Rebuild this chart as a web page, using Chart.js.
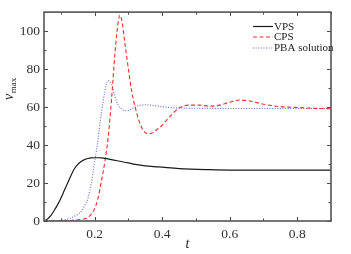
<!DOCTYPE html>
<html><head><meta charset="utf-8">
<script src="https://cdn.jsdelivr.net/npm/chart.js@4/dist/chart.umd.min.js"></script>
<style>html,body{margin:0;padding:0;background:#fff}canvas{display:block}</style>
</head><body>
<canvas id="c" width="351" height="254"></canvas>
<script>
const seriesNames = ['VPS', 'CPS', 'PBA solution'];
const xTicks = [0.2, 0.4, 0.6, 0.8];
const yTicks = [0, 20, 40, 60, 80, 100];

const tVPS = [0.05,0.06,0.07,0.08,0.09,0.10,0.11,0.12,0.13,0.14,0.15,0.16,0.17,0.18,0.19,0.20,0.21,0.22,0.23,0.24,0.25,0.27,0.30,0.32,0.35,0.39,0.45,0.54,0.60,0.70,0.80,0.90];
const vps  = [0,1,2.8,5.5,8.5,12,16,20,24,27.5,29.8,31.3,32.3,32.9,33.2,33.3,33.3,33.2,33.0,32.7,32.3,31.6,30.6,29.8,29.0,28.5,27.6,27.0,26.8,26.8,26.8,26.8];

const tCPS = [0.05,0.08,0.10,0.12,0.14,0.16,0.17,0.18,0.19,0.20,0.21,0.22,0.23,0.24,0.25,0.26,0.27,0.275,0.28,0.29,0.30,0.31,0.32,0.33,0.34,0.35,0.36,0.37,0.38,0.40,0.42,0.45,0.48,0.51,0.54,0.57,0.60,0.63,0.66,0.70,0.74,0.78,0.82,0.86,0.90];
const cps  = [0,0,0,0.2,0.5,0.8,1.2,2,3.5,6.5,12,21,31,44,64,88,105,108.4,106,93,80,68,60,53.5,49,46.5,45.8,46.3,47.5,50.5,54.5,59.5,61,61,60.5,61,62.6,63.7,63.2,61.5,60.4,59.9,59.6,59.3,59.1];

const tPBA = [0.05,0.07,0.09,0.10,0.11,0.12,0.13,0.14,0.15,0.16,0.17,0.18,0.19,0.20,0.21,0.22,0.23,0.24,0.25,0.26,0.27,0.28,0.29,0.30,0.31,0.32,0.33,0.35,0.37,0.40,0.45,0.55,0.70,0.90];
const pba  = [0,0.1,0.2,0.3,0.6,1.0,1.7,2.5,3.5,5,8,12,20,31,43,57,68,74,72,65.5,61,59,58,58.2,59,60,60.7,61.2,60.9,60.2,59.5,59.3,59.2,59.2];

const toPts = (xs, ys) => xs.map((x, i) => ({x: x, y: ys[i]}));

const frameAndTicks = {
  id: 'frameAndTicks',
  afterDatasetsDraw(chart) {
    const {ctx, chartArea: a, scales: {x, y}} = chart;
    ctx.save();
    ctx.strokeStyle = '#4a4a4a';
    ctx.lineWidth = 1;
    const minorX = [0.1, 0.3, 0.5, 0.7, 0.9];
    ctx.beginPath();
    xTicks.forEach(v => { const px = Math.round(x.getPixelForValue(v)) + 0.5; ctx.moveTo(px, a.bottom); ctx.lineTo(px, a.bottom - 4); ctx.moveTo(px, a.top); ctx.lineTo(px, a.top + 4); });
    minorX.forEach(v => { const px = Math.round(x.getPixelForValue(v)) + 0.5; ctx.moveTo(px, a.bottom); ctx.lineTo(px, a.bottom - 2.5); ctx.moveTo(px, a.top); ctx.lineTo(px, a.top + 2.5); });
    yTicks.forEach(v => { const py = Math.round(y.getPixelForValue(v)) + 0.5; ctx.moveTo(a.left, py); ctx.lineTo(a.left + 4, py); ctx.moveTo(a.right, py); ctx.lineTo(a.right - 4, py); });
    [10, 30, 50, 70, 90, 110].forEach(v => { const py = Math.round(y.getPixelForValue(v)) + 0.5; ctx.moveTo(a.left, py); ctx.lineTo(a.left + 2.5, py); ctx.moveTo(a.right, py); ctx.lineTo(a.right - 2.5, py); });
    ctx.stroke();
    ctx.lineWidth = 1.6;
    ctx.strokeStyle = '#555';
    ctx.strokeRect(a.left, a.top, a.right - a.left, a.bottom - a.top);
    ctx.font = '11px "Liberation Serif"';
    ctx.textBaseline = 'middle';
    ctx.fillStyle = '#222';
    const ly = [26.5, 37, 48];
    chart.data.datasets.forEach((ds, i) => {
      ctx.beginPath();
      ctx.strokeStyle = ds.borderColor;
      ctx.lineWidth = ds.borderWidth;
      ctx.setLineDash(ds.borderDash || []);
      ctx.moveTo(253, ly[i]); ctx.lineTo(273, ly[i]);
      ctx.stroke();
      ctx.setLineDash([]);
      ctx.fillText(ds.label, 274, ly[i] + 0.5);
    });
    ctx.fillStyle = '#222';
    ctx.textBaseline = 'alphabetic';
    ctx.textAlign = 'center';
    ctx.font = 'italic 14px "Liberation Serif"';
    ctx.fillText('t', (a.left + a.right) / 2, 248);
    ctx.translate(12.5, 100);
    ctx.rotate(-Math.PI / 2);
    ctx.textAlign = 'left';
    ctx.font = 'italic 14px "Liberation Serif"';
    ctx.fillText('v', 0, 0);
    const w = ctx.measureText('v').width;
    ctx.font = '9px "Liberation Serif"';
    ctx.fillText('max', w + 0.5, 3.5);
    ctx.restore();
  }
};

new Chart(document.getElementById('c'), {
  type: 'line',
  data: {
    datasets: [
      {label: seriesNames[0], data: toPts(tVPS, vps), borderColor: '#1a1a1a', borderWidth: 1.2, pointRadius: 0, tension: 0.4, cubicInterpolationMode: 'monotone', fill: false},
      {label: seriesNames[1], data: toPts(tCPS, cps), borderColor: '#ff2a2a', borderWidth: 1.1, borderDash: [4, 2.5], pointRadius: 0, tension: 0.4, cubicInterpolationMode: 'monotone', fill: false},
      {label: seriesNames[2], data: toPts(tPBA, pba), borderColor: '#6464d6', borderWidth: 1.1, borderDash: [1, 1.6], pointRadius: 0, tension: 0.4, cubicInterpolationMode: 'monotone', fill: false}
    ]
  },
  options: {
    responsive: false,
    animation: false,
    devicePixelRatio: 1,
    layout: {padding: {left: 0, top: 12, right: 20, bottom: 0}},
    plugins: {legend: {display: false}, tooltip: {enabled: false}},
    scales: {
      x: {
        type: 'linear', min: 0.05, max: 0.9,
        afterBuildTicks: s => { s.ticks = xTicks.map(v => ({value: v})); },
        afterFit: s => { s.height = 33; },
        grid: {display: false, drawTicks: false},
        border: {display: false},
        ticks: {font: {family: 'Liberation Serif', size: 13.5}, color: '#333', padding: 5, maxRotation: 0, callback: v => String(v)}
      },
      y: {
        type: 'linear', min: 0, max: 110,
        afterBuildTicks: s => { s.ticks = yTicks.map(v => ({value: v})); },
        afterFit: s => { s.width = 44; },
        grid: {display: false, drawTicks: false},
        border: {display: false},
        ticks: {font: {family: 'Liberation Serif', size: 13.5}, color: '#333', padding: 4, callback: v => String(v)}
      }
    }
  },
  plugins: [frameAndTicks]
});
</script>
</body></html>
